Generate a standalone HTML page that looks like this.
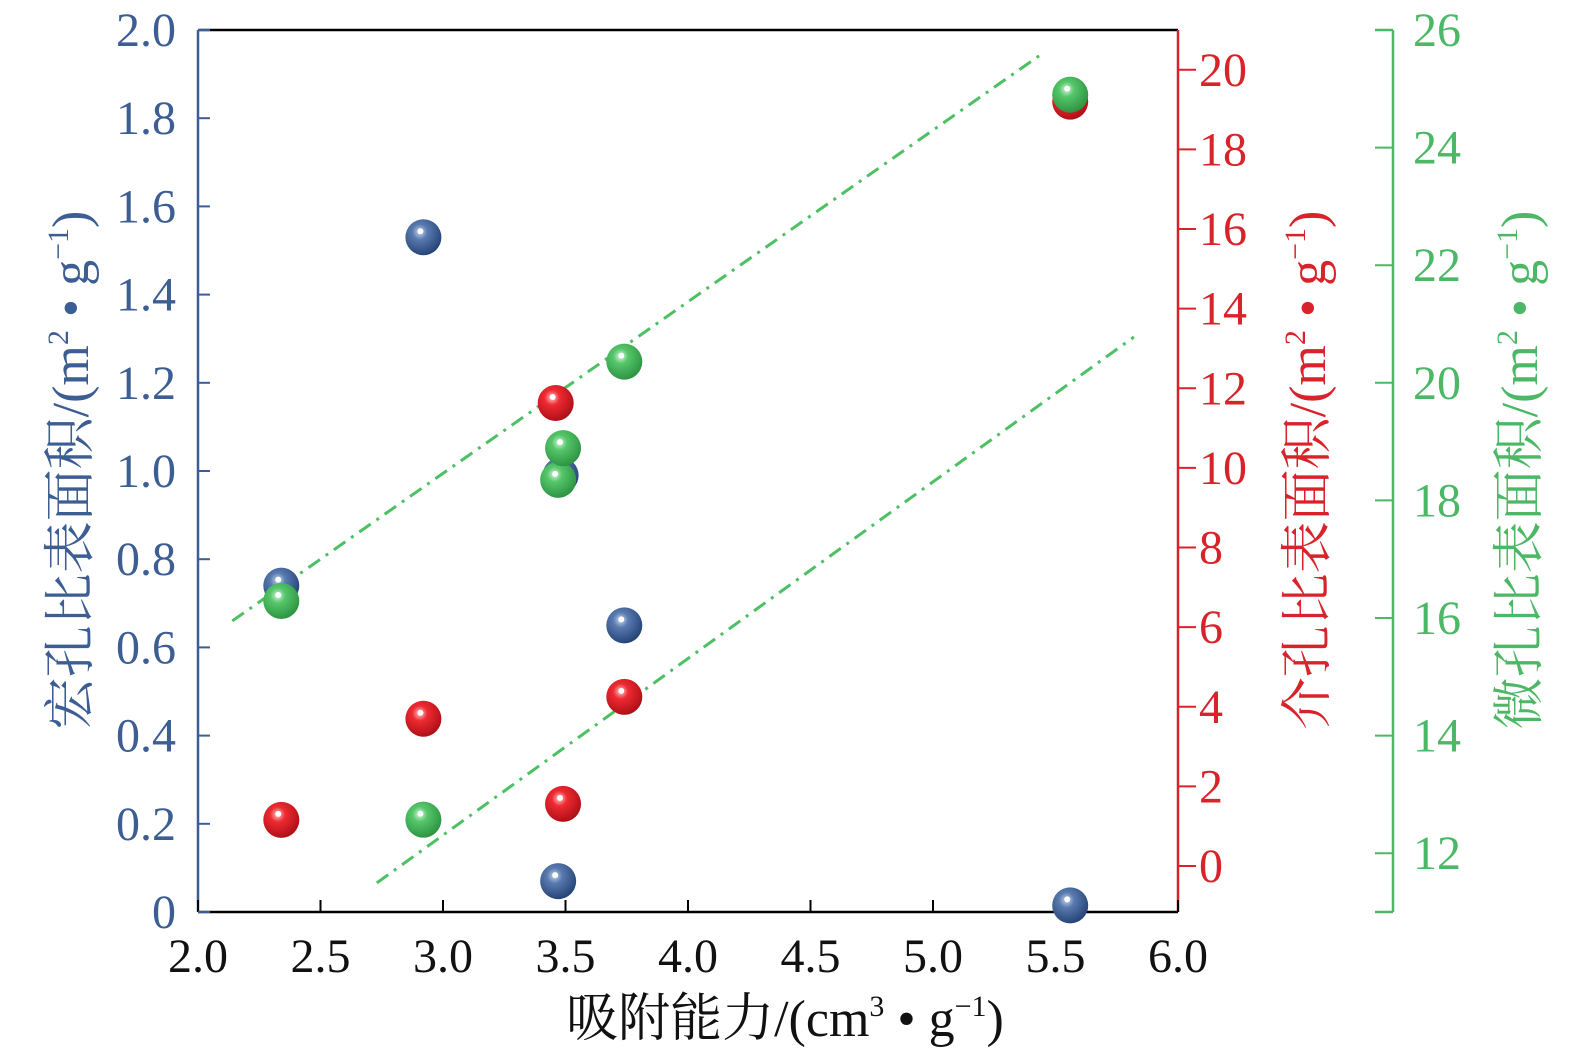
<!DOCTYPE html>
<html><head><meta charset="utf-8"><style>
html,body{margin:0;padding:0;background:#fff;overflow:hidden;}
svg{display:block;font-family:"Liberation Serif","Noto Serif CJK SC",serif;}
</style></head><body>
<svg id="chart" width="1575" height="1058" viewBox="0 0 1575 1058">
<defs>
<radialGradient id="gB" cx="0.4" cy="0.35" r="0.7"><stop offset="0" stop-color="#c9d6ea"/><stop offset="0.3" stop-color="#5a7bb0"/><stop offset="1" stop-color="#203f72"/></radialGradient>
<radialGradient id="gR" cx="0.4" cy="0.35" r="0.7"><stop offset="0" stop-color="#ffc8c8"/><stop offset="0.3" stop-color="#ee2a32"/><stop offset="1" stop-color="#a80d14"/></radialGradient>
<radialGradient id="gG" cx="0.4" cy="0.35" r="0.7"><stop offset="0" stop-color="#d6f5dc"/><stop offset="0.3" stop-color="#55c66a"/><stop offset="1" stop-color="#2a8f3e"/></radialGradient>
</defs>
<g id="axes"></g>
<g id="lines"></g>
<g id="marks"></g>
</svg>
<script>
const xTicks=[2.0,2.5,3.0,3.5,4.0,4.5,5.0,5.5,6.0];
const xTickLabels=["2.0","2.5","3.0","3.5","4.0","4.5","5.0","5.5","6.0"];
const leftTicks=[0,0.2,0.4,0.6,0.8,1.0,1.2,1.4,1.6,1.8,2.0];
const leftTickLabels=["0","0.2","0.4","0.6","0.8","1.0","1.2","1.4","1.6","1.8","2.0"];
const redTicks=[0,2,4,6,8,10,12,14,16,18,20];
const greenTicks=[12,14,16,18,20,22,24,26];
const macroX=[2.34,2.92,3.48,3.74,3.47,5.56];
const macroY=[0.74,1.53,0.99,0.65,0.07,0.015];
const mesoX=[2.34,2.92,3.46,3.49,3.74,5.56];
const mesoY=[1.16,3.7,11.63,1.56,4.25,19.2];
const microX=[2.34,2.92,3.47,3.49,3.74,5.56];
const microY=[16.29,12.57,18.35,18.89,20.36,24.9];
const fit1X=[2.14,5.45];
const fit1Y=[0.66,1.948];
const fit2X=[2.73,5.82];
const fit2Y=[0.066,1.304];

const L=198,R=1178,T=30,B=912,GX=1393;
const xs=v=>L+(v-2)/4*(R-L);
const yl=v=>B-v/2*(B-T);
const yr=v=>B-(v+1.155)/(21+1.155)*(B-T);
const yg=v=>B-(v-11)/15*(B-T);
const NS="http://www.w3.org/2000/svg";
function mk(tag,attrs,parent,text){const e=document.createElementNS(NS,tag);for(const k in attrs)e.setAttribute(k,attrs[k]);if(text!==undefined)e.textContent=text;parent.appendChild(e);return e;}
const ax=document.getElementById('axes');
const BL="#3d5e93",RD="#d9232b",GR="#4cb866";
const FS=48;
let e;
e=mk('line',{x1:L,y1:T,x2:R,y2:T,stroke:"#000","stroke-width":2.5},ax);

e=mk('line',{x1:L,y1:B,x2:R,y2:B,stroke:"#000","stroke-width":2.5},ax);

e=mk('line',{x1:L,y1:T,x2:L,y2:B,stroke:BL,"stroke-width":2.5},ax);

e=mk('line',{x1:R,y1:T,x2:R,y2:B,stroke:RD,"stroke-width":2.5},ax);

e=mk('line',{x1:GX,y1:T,x2:GX,y2:B,stroke:GR,"stroke-width":2.5},ax);

mk('line',{x1:GX-18,y1:T,x2:GX,y2:T,stroke:GR,"stroke-width":2.5},ax);
mk('line',{x1:GX-18,y1:B,x2:GX,y2:B,stroke:GR,"stroke-width":2.5},ax);
xTicks.forEach((v,i)=>{
 mk('line',{x1:xs(v),y1:B,x2:xs(v),y2:B-12,stroke:"#000","stroke-width":2},ax);
 e=mk('text',{x:xs(v),y:972,"text-anchor":"middle","font-size":FS,fill:"#111"},ax,xTickLabels[i]);
 
});
leftTicks.forEach((v,i)=>{
 mk('line',{x1:L,y1:yl(v),x2:L+12,y2:yl(v),stroke:BL,"stroke-width":2},ax);
 e=mk('text',{x:176,y:yl(v)+16,"text-anchor":"end","font-size":FS,fill:BL},ax,leftTickLabels[i]);
 
});
redTicks.forEach(v=>{
 mk('line',{x1:R,y1:yr(v),x2:R+18,y2:yr(v),stroke:RD,"stroke-width":2},ax);
 e=mk('text',{x:1199,y:yr(v)+16,"font-size":FS,fill:RD},ax,String(v));
 
});
greenTicks.forEach(v=>{
 mk('line',{x1:GX-18,y1:yg(v),x2:GX,y2:yg(v),stroke:GR,"stroke-width":2},ax);
 e=mk('text',{x:1413,y:yg(v)+16,"font-size":FS,fill:GR},ax,String(v));
 
});
e=mk('text',{x:785,y:1036,"text-anchor":"middle","font-size":52,fill:"#111"},ax);
e.innerHTML='吸附能力/(cm<tspan font-size="30" dy="-20">3</tspan><tspan dy="20"> • g</tspan><tspan font-size="30" dy="-20">−1</tspan><tspan dy="20">)</tspan>';

function ytitle(txt,x,col,name){
 const t=mk('text',{x:0,y:0,"text-anchor":"middle","font-size":52,fill:col,transform:`translate(${x},470) rotate(-90)`},ax);
 t.innerHTML=txt+'/(m<tspan font-size="30" dy="-20">2</tspan><tspan dy="20"> • g</tspan><tspan font-size="30" dy="-20">−1</tspan><tspan dy="20">)</tspan>';
 
}
ytitle('宏孔比表面积',88,BL,'left-y-axis-title');
ytitle('介孔比表面积',1325,RD,'red-y-axis-title');
ytitle('微孔比表面积',1537,GR,'green-y-axis-title');
const ln=document.getElementById('lines');
e=mk('line',{x1:xs(fit1X[0]),y1:yl(fit1Y[0]),x2:xs(fit1X[1]),y2:yl(fit1Y[1]),stroke:"#4cc063","stroke-width":3,"stroke-dasharray":"14 7 3 7"},ln);

e=mk('line',{x1:xs(fit2X[0]),y1:yl(fit2Y[0]),x2:xs(fit2X[1]),y2:yl(fit2Y[1]),stroke:"#4cc063","stroke-width":3,"stroke-dasharray":"14 7 3 7"},ln);

const mg=document.getElementById('marks');
function pts(X,Y,ysc,grad,name){
 X.forEach((x,i)=>{
  const c=mk('circle',{cx:xs(x),cy:ysc(Y[i]),r:18,fill:`url(#${grad})`},mg);
  
  
  mk('circle',{cx:xs(x)-3,cy:ysc(Y[i])-6,r:3,fill:"#fff"},mg);
 });
}
pts(macroX,macroY,yl,'gB','macro-point');
pts(mesoX,mesoY,yr,'gR','meso-point');
pts(microX,microY,yg,'gG','micro-point');
</script>
</body></html>
